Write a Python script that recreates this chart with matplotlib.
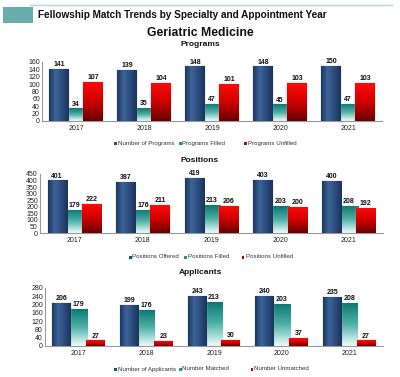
import numpy as np
import matplotlib
matplotlib.use("Agg")
import matplotlib.pyplot as plt
from matplotlib.colors import LinearSegmentedColormap
from matplotlib.patches import Rectangle
from matplotlib.lines import Line2D

plt.rcParams['font.family'] = ['Liberation Sans', 'DejaVu Sans']

years = ["2017", "2018", "2019", "2020", "2021"]

prog_total = [141, 139, 148, 148, 150]
prog_filled = [34, 35, 47, 45, 47]
prog_unfilled = [107, 104, 101, 103, 103]

pos_offered = [401, 387, 419, 403, 400]
pos_filled = [179, 176, 213, 203, 208]
pos_unfilled = [222, 211, 206, 200, 192]

app_total = [206, 199, 243, 240, 235]
app_matched = [179, 176, 213, 203, 208]
app_unmatched = [27, 23, 30, 37, 27]

W, H = 400, 377
fig = plt.figure(figsize=(W / 100, H / 100), dpi=100)
fig.patch.set_facecolor("white")

def fx(px):
    return px / W

def fy(py):
    return 1 - py / H

# header
fig.add_artist(Line2D([fx(30), fx(392)], [fy(5), fy(5)], color="#b7d6d4", lw=1.0))
fig.add_artist(Rectangle((fx(3), fy(23)), fx(30), 16 / H, facecolor="#6aaeab",
                         edgecolor="none"))
fig.text(fx(38), fy(15), "Fellowship Match Trends by Specialty and Appointment Year",
         fontsize=7.2, fontweight="bold", va="center", ha="left", color="#111111")
fig.text(0.5, fy(33), "Geriatric Medicine", fontsize=8.8, fontweight="bold",
         ha="center", va="center", color="#111111")

blue_cmap = LinearSegmentedColormap.from_list("b", ["#1c3760", "#3d6497", "#2b4c7d", "#1b345a"])
teal_cmap = LinearSegmentedColormap.from_list("t", ["#0a7770", "#4fb1a7", "#effdfb"])
red_cmap = LinearSegmentedColormap.from_list("r", ["#ff0a0a", "#d00000", "#6a0000"])


def grad_bars(ax, bars, cmap, horizontal):
    for b in bars:
        x0, y0 = b.get_x(), b.get_y()
        w, h = b.get_width(), b.get_height()
        if horizontal:
            g = np.linspace(0, 1, 64).reshape(1, -1)
        else:
            g = np.linspace(0, 1, 64).reshape(-1, 1)
        im = ax.imshow(g, cmap=cmap, extent=(x0, x0 + w, y0, y0 + h), aspect="auto",
                       origin="upper", zorder=b.get_zorder(), interpolation="bicubic")
        im.set_clip_path(b)
        b.set_facecolor("none")


def panel(rect, title, title_y, s1, s2, s3, ymax, step, names, leg_y, leg_x):
    ax = fig.add_axes(rect)
    x = np.arange(len(years))
    w = 0.28
    off = 0.25
    b1 = ax.bar(x - off, s1, w, zorder=3, edgecolor="#9fb3cc", linewidth=0.3)
    b2 = ax.bar(x, s2, w * 0.95, zorder=2, edgecolor="#a8d8d2", linewidth=0.3)
    b3 = ax.bar(x + off, s3, w, zorder=4, edgecolor="#e8a0a0", linewidth=0.3)
    grad_bars(ax, b1, blue_cmap, True)
    grad_bars(ax, b2, teal_cmap, False)
    grad_bars(ax, b3, red_cmap, False)
    for bars, vals in ((b1, s1), (b2, s2), (b3, s3)):
        for b, v in zip(bars, vals):
            ax.text(b.get_x() + b.get_width() / 2, v + ymax * 0.015, str(v),
                    ha="center", va="bottom", fontsize=5, fontweight="bold",
                    color="#111111", zorder=6)
    ax.set_xlim(-0.5, len(years) - 0.5)
    ax.set_ylim(0, ymax)
    ax.set_yticks(np.arange(0, ymax + 1, step))
    ax.set_xticks(x)
    ax.set_xticklabels(years)
    ax.tick_params(axis="both", labelsize=5, length=0, pad=1.5, colors="#222222")
    ax.tick_params(axis="x", pad=3)
    for sp in ("top", "right"):
        ax.spines[sp].set_visible(False)
    for sp in ("left", "bottom"):
        ax.spines[sp].set_color("#999999")
        ax.spines[sp].set_linewidth(0.8)
    ax.set_facecolor("white")
    fig.text(0.5, fy(title_y), title, fontsize=6, fontweight="bold", ha="center",
             va="center", color="#111111")
    cols = ["#2a4a7a", "#1a9a90", "#c00000"]
    for nm, c, lx in zip(names, cols, leg_x):
        fig.add_artist(Rectangle((fx(lx - 1.5), fy(leg_y + 1.5)), 3.0 / W, 3.0 / H,
                                 facecolor=c, edgecolor="none"))
        fig.text(fx(lx + 2.5), fy(leg_y), nm, fontsize=4.4, va="center", ha="left",
                 color="#333333")
    return ax


panel([fx(42), fy(121), fx(382) - fx(42), fy(62) - fy(121)], "Programs", 45,
      prog_total, prog_filled, prog_unfilled, 160, 20,
      ["Number of Programs", "Programs Filled", "Programs Unfilled"], 143.5,
      [115, 180, 246])

panel([fx(40), fy(233), fx(383) - fx(40), fy(174) - fy(233)], "Positions", 160,
      pos_offered, pos_filled, pos_unfilled, 450, 50,
      ["Positions Offered", "Positions Filled", "Positions Unfilled"], 257,
      [130, 185, 243])

panel([fx(45), fy(346), fx(383) - fx(45), fy(288) - fy(346)], "Applicants", 273,
      app_total, app_matched, app_unmatched, 280, 40,
      ["Number of Applicants", "Number Matched", "Number Unmatched"], 369,
      [115, 180, 252])

fig.savefig("out.png", dpi=100, facecolor="white")
